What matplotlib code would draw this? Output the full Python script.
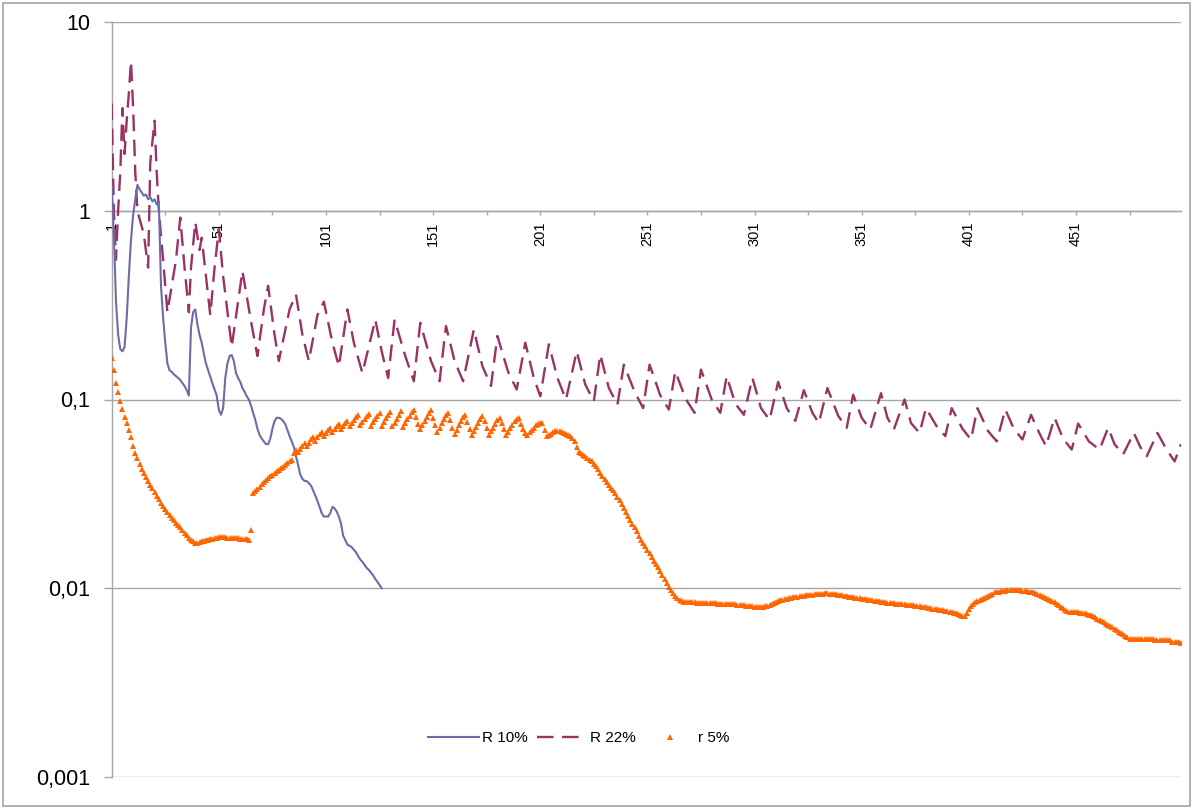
import matplotlib
matplotlib.use("Agg")
import matplotlib.pyplot as plt
from matplotlib.lines import Line2D
from matplotlib.patches import Rectangle
import numpy as np

plt.rcParams['font.family'] = ['Liberation Sans', 'DejaVu Sans']

# ---------------- data ----------------
# R 10% : one value per category, x = 1..127
r10_values = [1.35, 0.75, 0.33, 0.22, 0.185, 0.18, 0.19, 0.27, 0.45, 0.7,
              0.95, 1.15, 1.37, 1.3, 1.25, 1.2, 1.22, 1.15, 1.18, 1.12,
              1.15, 1.08, 1.12, 0.4, 0.27, 0.2, 0.155, 0.143, 0.14, 0.136,
              0.133, 0.13, 0.127, 0.122, 0.118, 0.112, 0.105, 0.24, 0.29, 0.30,
              0.25, 0.22, 0.2, 0.175, 0.155, 0.143, 0.132, 0.122, 0.113, 0.105,
              0.088, 0.083, 0.09, 0.13, 0.155, 0.17, 0.172, 0.16, 0.138, 0.13,
              0.124, 0.115, 0.11, 0.104, 0.1, 0.093, 0.085, 0.078, 0.07, 0.065,
              0.062, 0.06, 0.058, 0.058, 0.062, 0.07, 0.077, 0.08, 0.08, 0.079,
              0.077, 0.074, 0.069, 0.064, 0.06, 0.056, 0.05, 0.045, 0.04, 0.038,
              0.037, 0.037, 0.036, 0.035, 0.033, 0.031, 0.029, 0.027, 0.025, 0.024,
              0.024, 0.024, 0.025, 0.027, 0.0265, 0.0255, 0.024, 0.022, 0.019, 0.018,
              0.017, 0.0168, 0.0165, 0.016, 0.0155, 0.0148, 0.0142, 0.0138, 0.0133, 0.0128,
              0.0125, 0.0121, 0.0117, 0.0112, 0.0108, 0.0104, 0.0100]

# R 22% : vertices (category, value) of the saw-tooth curve
r22_x = [1, 2, 3, 4, 5, 6, 7, 8, 9, 10, 11, 12, 13, 16, 18, 19, 21, 22, 23, 25,
         27, 29, 31, 33, 35, 37, 38, 40, 42, 43, 45, 47, 49, 51, 53, 57, 60, 62, 66, 69,
         72, 74, 77, 79, 84, 87, 90, 93, 97, 100, 104, 107, 111, 114, 118, 124, 127, 130, 133, 138,
         142, 145, 150, 154, 157, 161, 165, 170, 174, 178, 181, 186, 190, 194, 198, 201, 205, 209, 213, 218,
         222, 226, 229, 233, 237, 240, 245, 249, 252, 257, 261, 264, 269, 273, 276, 281, 285, 288, 292, 296,
         300, 304, 308, 312, 316, 320, 324, 328, 331, 335, 340, 344, 347, 351, 355, 360, 363, 366, 371, 374,
         378, 381, 386, 390, 393, 398, 402, 405, 410, 414, 418, 422, 426, 430, 434, 437, 441, 445, 449, 452,
         457, 462, 466, 469, 473, 478, 481, 484, 489, 493, 497, 500]
r22_y = [3.7, 1.0, 0.55, 1.0, 1.6, 3.5, 2.0, 3.0, 4.2, 6.2, 3.5, 1.6, 1.0, 0.75, 0.5, 1.8, 3.0, 1.6, 1.0, 0.55,
         0.29, 0.4, 0.55, 0.92, 0.5, 0.29, 0.5, 0.87, 0.62, 0.72, 0.45, 0.28, 0.5, 0.8, 0.45, 0.19, 0.33, 0.48, 0.26, 0.17,
         0.3, 0.40, 0.22, 0.16, 0.3, 0.36, 0.22, 0.16, 0.28, 0.33, 0.2, 0.15, 0.30, 0.2, 0.138, 0.265, 0.18, 0.13, 0.265, 0.17,
         0.125, 0.255, 0.16, 0.125, 0.245, 0.16, 0.125, 0.235, 0.15, 0.118, 0.217, 0.14, 0.113, 0.20, 0.13, 0.104, 0.196, 0.13, 0.1, 0.18,
         0.12, 0.098, 0.173, 0.115, 0.094, 0.153, 0.11, 0.09, 0.153, 0.105, 0.0885, 0.141, 0.1, 0.085, 0.144, 0.1, 0.085, 0.133, 0.095, 0.083,
         0.13, 0.09, 0.078, 0.124, 0.09, 0.077, 0.112, 0.085, 0.075, 0.115, 0.082, 0.0708, 0.106, 0.08, 0.0694, 0.108, 0.08, 0.0694, 0.1, 0.075,
         0.0665, 0.09, 0.072, 0.064, 0.09, 0.07, 0.0614, 0.09, 0.068, 0.06, 0.0885, 0.07, 0.0614, 0.083, 0.066, 0.0566, 0.08, 0.062, 0.0543, 0.0746,
         0.06, 0.0543, 0.0708, 0.058, 0.0512, 0.0665, 0.056, 0.05, 0.0665, 0.055, 0.047, 0.058]

# r 5% : one value per category, x = 1..500
r5_part1 = [0.166, 0.143, 0.122, 0.109, 0.098, 0.089, 0.081, 0.075, 0.069, 0.063,
            0.057, 0.052, 0.049, 0.0455, 0.043, 0.041, 0.039, 0.037, 0.0353, 0.034,
            0.0325, 0.031, 0.0296, 0.0284, 0.0273, 0.0262, 0.0252, 0.0244, 0.0236, 0.0229,
            0.0223, 0.0216, 0.021, 0.0203, 0.0197, 0.0191, 0.0185, 0.0181, 0.0177, 0.0174,
            0.0174, 0.0176, 0.0177, 0.0179, 0.018, 0.0181, 0.0182, 0.0183, 0.0184, 0.0185,
            0.0186, 0.0186, 0.0186, 0.0186, 0.0185, 0.0185, 0.0185, 0.0185, 0.0184, 0.0184,
            0.0183, 0.0183, 0.0182, 0.0182, 0.0181, 0.0203]
r5_part2 = [0.0320, 0.0328, 0.0336, 0.0345,
            0.0355, 0.0364, 0.0373, 0.0382, 0.0391, 0.0400, 0.0408, 0.0416, 0.0424, 0.0432,
            0.0441, 0.0450, 0.0460, 0.0470, 0.0480, 0.0520, 0.0540, 0.0525, 0.0545, 0.0570,
            0.0590, 0.0565, 0.0590, 0.0615, 0.0635, 0.0605, 0.0630, 0.0655, 0.0675, 0.0640,
            0.0665, 0.0690, 0.0710, 0.0670, 0.0695, 0.0720, 0.0740, 0.0700, 0.0725, 0.0750,
            0.0770, 0.0725, 0.0750, 0.0780, 0.0805, 0.0830, 0.0735, 0.0760, 0.0790, 0.0815,
            0.0835, 0.0725, 0.0760, 0.0790, 0.0820, 0.0850, 0.0725, 0.0760, 0.0795, 0.0830,
            0.0860, 0.0720, 0.0755, 0.0790, 0.0825, 0.0865, 0.0715, 0.0750, 0.0785, 0.0820,
            0.0855, 0.0880, 0.0810, 0.0740, 0.0695, 0.0730, 0.0770, 0.0810, 0.0850, 0.0875,
            0.0800, 0.0730, 0.0675, 0.0710, 0.0750, 0.0790, 0.0825, 0.0850, 0.0780, 0.0710,
            0.0655, 0.0690, 0.0730, 0.0770, 0.0805, 0.0830, 0.0760, 0.0695, 0.0645, 0.0680,
            0.0715, 0.0750, 0.0785, 0.0815, 0.0765, 0.0710, 0.0650, 0.0680, 0.0710, 0.0745,
            0.0775, 0.0800, 0.0750, 0.0700, 0.0650, 0.0675, 0.0705, 0.0735, 0.0765, 0.0790,
            0.0800, 0.0745, 0.0700, 0.0665, 0.0650, 0.0670, 0.0690, 0.0710, 0.0730, 0.0745,
            0.0755, 0.0750, 0.0690, 0.0640, 0.0650, 0.0660, 0.0670, 0.0678, 0.0683, 0.0680,
            0.0675, 0.0668, 0.0660, 0.0650, 0.0640, 0.0628, 0.0600, 0.0560, 0.0530, 0.0520,
            0.0510, 0.0500, 0.0490, 0.0480, 0.0470, 0.0458, 0.0444, 0.0428, 0.0410, 0.0392,
            0.0378, 0.0364, 0.0352, 0.0340, 0.0330, 0.0320, 0.0306, 0.0292, 0.0278, 0.0265,
            0.0252, 0.0240, 0.0230, 0.0220, 0.0210, 0.0200, 0.0190, 0.0181, 0.0174, 0.0167,
            0.0160, 0.0153, 0.0146, 0.0140, 0.0135, 0.0129, 0.0123, 0.0117, 0.0112, 0.0107,
            0.0102, 0.0098, 0.0094, 0.0091, 0.0089, 0.0087, 0.0086, 0.0085, 0.0085]
r5_part3 = [0.0085, 0.0085, 0.0085, 0.0085, 0.0084, 0.0084, 0.0084, 0.0084, 0.0084, 0.0084,
            0.0084, 0.0084, 0.0084, 0.0084, 0.0083, 0.0083, 0.0083, 0.0083, 0.0083, 0.0083,
            0.0083, 0.0083, 0.0083, 0.0082, 0.0082, 0.0082, 0.0082, 0.0081, 0.0081, 0.0081,
            0.0081, 0.0080, 0.0080, 0.0080, 0.0080, 0.0080, 0.0081, 0.0081, 0.0082, 0.0083,
            0.0084, 0.0085, 0.0086, 0.0087, 0.0087, 0.0088, 0.0088, 0.0089, 0.0089, 0.0090,
            0.0090, 0.0090, 0.0091, 0.0091, 0.0091, 0.0092, 0.0092, 0.0092, 0.0092, 0.0093,
            0.0093, 0.0093, 0.0093, 0.0093, 0.0094, 0.0094, 0.0093, 0.0093, 0.0093, 0.0093,
            0.0092, 0.0092, 0.0092, 0.0091, 0.0091, 0.0090, 0.0090, 0.0090, 0.0089, 0.0089,
            0.0089, 0.0088, 0.0088, 0.0088, 0.0087, 0.0087, 0.0087, 0.0086, 0.0086, 0.0086,
            0.0085, 0.0085, 0.0085, 0.0084, 0.0084, 0.0084, 0.0084, 0.0083, 0.0083, 0.0083,
            0.0083, 0.0083, 0.0082, 0.0082, 0.0082, 0.0082, 0.0081, 0.0081, 0.0081, 0.0080,
            0.0080, 0.0080, 0.0079, 0.0079, 0.0078, 0.0078, 0.0078, 0.0077, 0.0077, 0.0077,
            0.0076, 0.0076, 0.0075, 0.0075, 0.0074, 0.0074, 0.0073, 0.0072, 0.0071, 0.0071,
            0.0074, 0.0078, 0.0081, 0.0083, 0.0085, 0.0086, 0.0087, 0.0088, 0.0089, 0.0090,
            0.0091, 0.0092, 0.0093, 0.0095, 0.0096, 0.0096, 0.0097, 0.0097, 0.0097, 0.0098,
            0.0098, 0.0098, 0.0098, 0.0098, 0.0098, 0.0098, 0.0097, 0.0097, 0.0097, 0.0096,
            0.0096, 0.0095, 0.0094, 0.0093, 0.0092, 0.0091, 0.0090, 0.0089, 0.0088, 0.0087,
            0.0086, 0.0085, 0.0083, 0.0082, 0.0080, 0.0079, 0.0077, 0.0076, 0.0075, 0.0075,
            0.0075, 0.0075, 0.0075, 0.0074, 0.0074, 0.0074, 0.0073, 0.0072, 0.0072, 0.0071,
            0.0070, 0.0069, 0.0068, 0.0067, 0.0066, 0.0065, 0.0064, 0.0063, 0.0062, 0.0061,
            0.0060, 0.0059, 0.0058, 0.0057, 0.0056, 0.0055, 0.0054, 0.0054, 0.0054, 0.0054,
            0.0054, 0.0054, 0.0054, 0.0054, 0.0054, 0.0054, 0.0054, 0.0054, 0.0053, 0.0053,
            0.0053, 0.0053, 0.0053, 0.0053, 0.0053, 0.0053, 0.0052, 0.0052, 0.0052, 0.0052,
            0.0051]
r5_values = r5_part1 + r5_part2 + r5_part3

series_names = ['R 10%', 'R 22%', 'r 5%']
y_ticks = [0.001, 0.01, 0.1, 1, 10]
y_tick_labels = ['0,001', '0,01', '0,1', '1', '10']
x_major = list(range(1, 501, 25))
x_labels = [str(v) if (v - 1) % 50 == 0 else '' for v in x_major]

# ---------------- styles ----------------
C_BLUE = '#6C6CA8'
C_PURPLE = '#993366'
C_ORANGE = '#FF6600'
C_GRID = '#A6A6A6'
DASH = (0, (7.0, 3.6))

W, H, DPI = 1193, 809, 100
fig = plt.figure(figsize=(W / DPI, H / DPI), dpi=DPI)
L, R, T, B = 111.7, 1181, 22, 777
ax = fig.add_axes([L / W, 1 - B / H, (R - L) / W, (B - T) / H])

x10 = np.arange(1, len(r10_values) + 1)
x5 = np.arange(1, len(r5_values) + 1)

ax.plot(r22_x, r22_y, color=C_PURPLE, lw=1.7, linestyle=DASH,
        dash_capstyle='butt', zorder=3)
ax.plot(x10, r10_values, color=C_BLUE, lw=1.5, zorder=4)
ax.plot(x5, r5_values, linestyle='none', marker='^', ms=4.6, mew=0,
        color=C_ORANGE, zorder=5)

ax.set_yscale('log')
ax.set_ylim(0.001, 10)
ax.set_xlim(1, 500)

# move the category axis to cross at y = 1 (before setting ticks)
for s in ('top', 'right'):
    ax.spines[s].set_visible(False)
ax.spines['left'].set_color(C_GRID)
ax.spines['left'].set_linewidth(1.0)
ax.spines['bottom'].set_position(('data', 1))
ax.spines['bottom'].set_color(C_GRID)
ax.spines['bottom'].set_linewidth(1.0)

ax.set_yticks(y_ticks)
ax.set_yticklabels(y_tick_labels)
ax.yaxis.set_minor_locator(matplotlib.ticker.NullLocator())
ax.set_xticks(x_major)
ax.set_xticklabels(x_labels)

ax.set_axisbelow(True)
ax.yaxis.grid(True, color=C_GRID, lw=1.0)
ax.xaxis.grid(False)

ax.tick_params(axis='y', which='major', direction='out', length=5.8, width=1.0,
               color=C_GRID, labelsize=15.5, pad=9.5, labelcolor='black')
ax.tick_params(axis='x', which='major', direction='out', length=3, width=1.0,
               color=C_GRID, labelsize=10.5, pad=5, labelcolor='black',
               labelrotation=90)

handles = [Line2D([], [], color=C_BLUE, lw=1.5),
           Line2D([], [], color=C_PURPLE, lw=1.7, linestyle=DASH),
           Line2D([], [], color=C_ORANGE, linestyle='none', marker='^', ms=4.6, mew=0)]
fig.legend(handles, series_names, loc='center', bbox_to_anchor=(579 / W, 1 - 738 / H),
           ncol=3, frameon=False, fontsize=11, handlelength=3.3, handletextpad=0.2,
           columnspacing=0.6, numpoints=1)

fig.patches.append(Rectangle((3 / W, 3 / H), (W - 6) / W, (H - 6) / H,
                             transform=fig.transFigure, fill=False,
                             ec=C_GRID, lw=1.2))

fig.savefig('out.png', dpi=DPI)
